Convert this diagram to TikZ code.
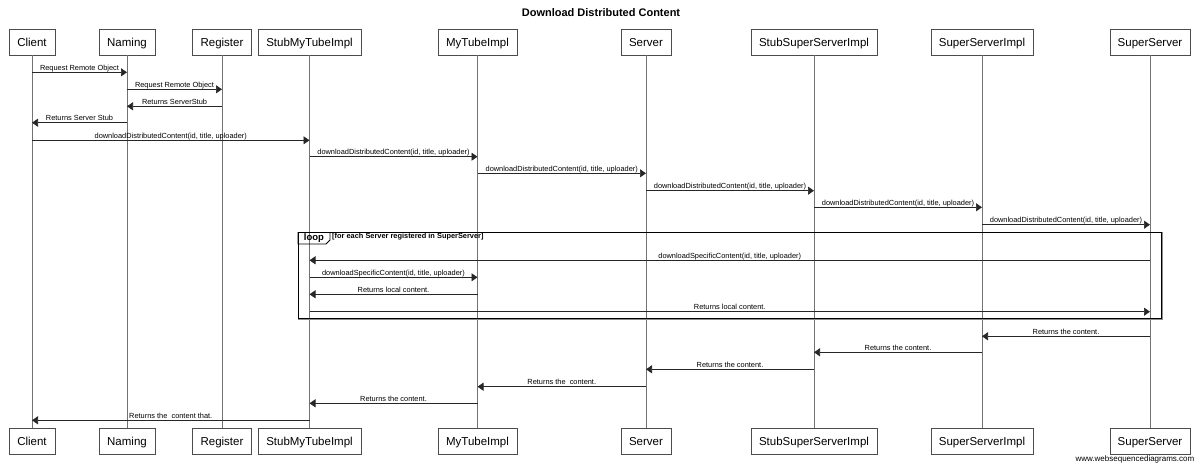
\documentclass[tikz,border=0pt]{standalone}
\usepackage{fontspec}
\setmainfont{Liberation Sans}
\usetikzlibrary{arrows.meta}

\newcommand{\msg}[4]{\draw[msg] (#1 |- 0,#3) -- node[lbl] {#4} (#2 |- 0,#3);}

\begin{document}
\begin{tikzpicture}[
            x=1pt, y=-1pt,
            actor/.style={draw=black!70, fill=white, font=\fontsize{11.5}{13}\selectfont,
                minimum height=26pt, inner xsep=8pt, inner ysep=0pt, text height=9pt, text depth=0pt},
            life/.style={draw=black!55, line width=0.8pt},
            msg/.style={draw=black!85, line width=0.7pt, -{Triangle[length=6pt,width=8pt]}},
            lbl/.style={anchor=base, yshift=2.2pt, inner sep=0pt, font=\fontsize{7.4}{8}\selectfont},
            frame/.style={draw=black, line width=1pt}]
        \useasboundingbox (0,0) rectangle (1200,469);
        \node[font=\bfseries\fontsize{11}{13}\selectfont] (title) at (601,13) {Download Distributed Content};
        % participants, top and bottom, with their lifelines
        \foreach \name/\x in {Client/32, Naming/127, Register/222, StubMyTubeImpl/309.5, MyTubeImpl/477.5,
                Server/646, StubSuperServerImpl/814, SuperServerImpl/982, SuperServer/1150} {
            \node[actor] (\name) at (\x,42) {\name};
            \node[actor] (\name-b) at (\x,441.3) {\name};
            \draw[life] (\name) -- (\name-b);
        }
        % lookup
        \msg{Client}{Naming}{72.3}{Request Remote Object}
        \msg{Naming}{Register}{89.3}{Request Remote Object}
        \msg{Register}{Naming}{106.3}{Returns ServerStub}
        \msg{Naming}{Client}{122.7}{Returns Server Stub}
        % call chain
        \msg{Client}{StubMyTubeImpl}{140.3}{downloadDistributedContent(id, title, uploader)}
        \msg{StubMyTubeImpl}{MyTubeImpl}{156.7}{downloadDistributedContent(id, title, uploader)}
        \msg{MyTubeImpl}{Server}{173.3}{downloadDistributedContent(id, title, uploader)}
        \msg{Server}{StubSuperServerImpl}{190.7}{downloadDistributedContent(id, title, uploader)}
        \msg{StubSuperServerImpl}{SuperServerImpl}{207.3}{downloadDistributedContent(id, title, uploader)}
        \msg{SuperServerImpl}{SuperServer}{224.7}{downloadDistributedContent(id, title, uploader)}
        % loop frame
        \coordinate (loop-nw) at (298,232);
        \coordinate (loop-se) at (1161,318);
        \draw[black!45, line width=1pt] ([xshift=1.3pt]loop-se |- loop-nw) -- ([xshift=1.3pt,yshift=-1.3pt]loop-se) -- ([yshift=-1.3pt]loop-nw |- loop-se);  % shadow
        \draw[frame] (loop-nw) rectangle (loop-se);
        \draw[frame, line width=0.8pt] (loop-nw) -- (298,244) -- (326,244) -- (330,240) -- (330,232);
        \node[anchor=base, inner sep=0pt, font=\bfseries\fontsize{9.5}{10}\selectfont] (loop-tag) at (314,240.5) {loop};
        \node[anchor=base west, inner sep=0pt, font=\bfseries\fontsize{7.4}{8}\selectfont] (loop-guard) at (332,238.3) {[for each Server registered in SuperServer]};
        \msg{SuperServer}{StubMyTubeImpl}{260.3}{downloadSpecificContent(id, title, uploader)}
        \msg{StubMyTubeImpl}{MyTubeImpl}{277.3}{downloadSpecificContent(id, title, uploader)}
        \msg{MyTubeImpl}{StubMyTubeImpl}{294.3}{Returns local content.}
        \msg{StubMyTubeImpl}{SuperServer}{311.7}{Returns local content.}
        % returns
        \msg{SuperServer}{SuperServerImpl}{336.3}{Returns the content.}
        \msg{SuperServerImpl}{StubSuperServerImpl}{352.3}{Returns the content.}
        \msg{StubSuperServerImpl}{Server}{369.3}{Returns the content.}
        \msg{Server}{MyTubeImpl}{386.7}{Returns the\ \ content.}
        \msg{MyTubeImpl}{StubMyTubeImpl}{403.3}{Returns the content.}
        \msg{StubMyTubeImpl}{Client}{420.3}{Returns the\ \ content that.}
        \node[anchor=base east, inner sep=0pt, font=\fontsize{8}{9}\selectfont] (wsd) at (1194.5,461.5) {www.websequencediagrams.com};
    \end{tikzpicture}
\end{document}
